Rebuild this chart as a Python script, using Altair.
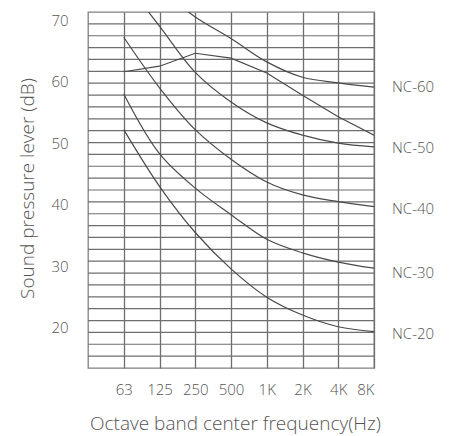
import altair as alt
import pandas as pd
import numpy as np

# Octave band centre frequencies (position 0 is an unlabeled half-band at the left edge)
freq_labels = ["63", "125", "250", "500", "1K", "2K", "4K", "8K"]

# Curves (dB at each octave band)
nc20 = [52.2, 43.0, 35.5, 29.6, 25.0, 22.1, 20.2, 19.4]
nc30 = [58.0, 48.3, 42.7, 38.4, 34.4, 32.2, 30.7, 29.7]
nc40 = [67.2, 59.0, 52.2, 47.4, 43.7, 41.6, 40.5, 39.7]
nc50 = [76.5, 69.0, 61.5, 56.7, 53.3, 51.3, 50.0, 49.4]
nc60 = [80.0, 75.0, 70.5, 67.0, 63.2, 60.7, 59.8, 59.1]
measured = [61.6, 62.5, 64.6, 63.8, 61.4, 57.8, 54.3, 51.3]

nc_labels = ["NC-60", "NC-50", "NC-40", "NC-30", "NC-20"]
nc_label_db = [59.1, 49.2, 39.3, 28.9, 19.0]
y_ticks = [20, 30, 40, 50, 60, 70]

Y_MIN, Y_MAX = 13.5, 71.3
FONT = "Open Sans"
GRID = "#6e6e6e"
INK = "#555555"

rows = []
for name, vals in [("NC-20", nc20), ("NC-30", nc30), ("NC-40", nc40),
                   ("NC-50", nc50), ("NC-60", nc60)]:
    for i, (f, v) in enumerate(zip(freq_labels, vals)):
        rows.append({"curve": name, "freq": f, "pos": i + 1, "db": v})
curves_df = pd.DataFrame(rows)
meas_df = pd.DataFrame({"freq": freq_labels,
                        "pos": list(range(1, len(freq_labels) + 1)),
                        "db": measured})
labels_df = pd.DataFrame({"label": nc_labels, "db": nc_label_db,
                          "pos": [len(freq_labels)] * len(nc_labels)})
grid_df = pd.DataFrame({"g": np.linspace(Y_MIN, Y_MAX, 31)[1:-1]})

label_arr = "[" + ",".join(["''"] + [f"'{f}'" for f in freq_labels]) + "]"

x_scale = alt.Scale(domain=[0, len(freq_labels)], nice=False, zero=False)
y_scale = alt.Scale(domain=[Y_MIN, Y_MAX], nice=False, zero=False)

x_axis = alt.Axis(
    values=list(range(1, len(freq_labels) + 1)),
    labelExpr=f"{label_arr}[datum.value]",
    title="Octave band center frequency(Hz)",
    titleFont=FONT, titleFontSize=19, titleFontWeight=300, titleColor=INK,
    titleX=147, titleY=55, titleBaseline="middle",
    labelFont=FONT, labelFontSize=15, labelFontWeight=300, labelColor=INK,
    labelPadding=14, ticks=False, domain=False,
    grid=True, gridColor=GRID, gridWidth=1.3,
)
y_axis = alt.Axis(
    values=y_ticks,
    title="Sound pressure lever (dB)",
    titleFont=FONT, titleFontSize=19, titleFontWeight=300, titleColor=INK,
    titleX=-61, titleY=176, titleBaseline="middle",
    labelFont=FONT, labelFontSize=15, labelFontWeight=300, labelColor=INK,
    labelPadding=20, ticks=False, domain=False, grid=False,
)

grid = alt.Chart(grid_df).mark_rule(color=GRID, strokeWidth=1.2).encode(
    y=alt.Y("g:Q", scale=y_scale, axis=y_axis)
)

lines = alt.Chart(curves_df).mark_line(
    color="#4a4a4a", strokeWidth=1.2, interpolate="catmull-rom", clip=True
).encode(
    x=alt.X("pos:Q", scale=x_scale, axis=x_axis),
    y=alt.Y("db:Q", scale=y_scale),
    detail="curve:N",
)

meas = alt.Chart(meas_df).mark_line(
    color="#4a4a4a", strokeWidth=1.2, clip=True
).encode(
    x=alt.X("pos:Q", scale=x_scale),
    y=alt.Y("db:Q", scale=y_scale),
)

texts = alt.Chart(labels_df).mark_text(
    align="left", baseline="middle", dx=18, font=FONT, fontSize=15,
    fontWeight=300, color=INK
).encode(
    x=alt.X("pos:Q", scale=x_scale),
    y=alt.Y("db:Q", scale=y_scale),
    text="label:N",
)

chart = alt.layer(grid, lines, meas, texts).properties(
    width=286, height=356,
    padding={"left": 80, "top": 4, "right": 65, "bottom": 68},
    autosize=alt.AutoSizeParams(type="none"),
).configure_view(stroke="#808080", strokeWidth=1.3)

chart.save("out.html", embed_options={"renderer": "svg", "actions": False})
